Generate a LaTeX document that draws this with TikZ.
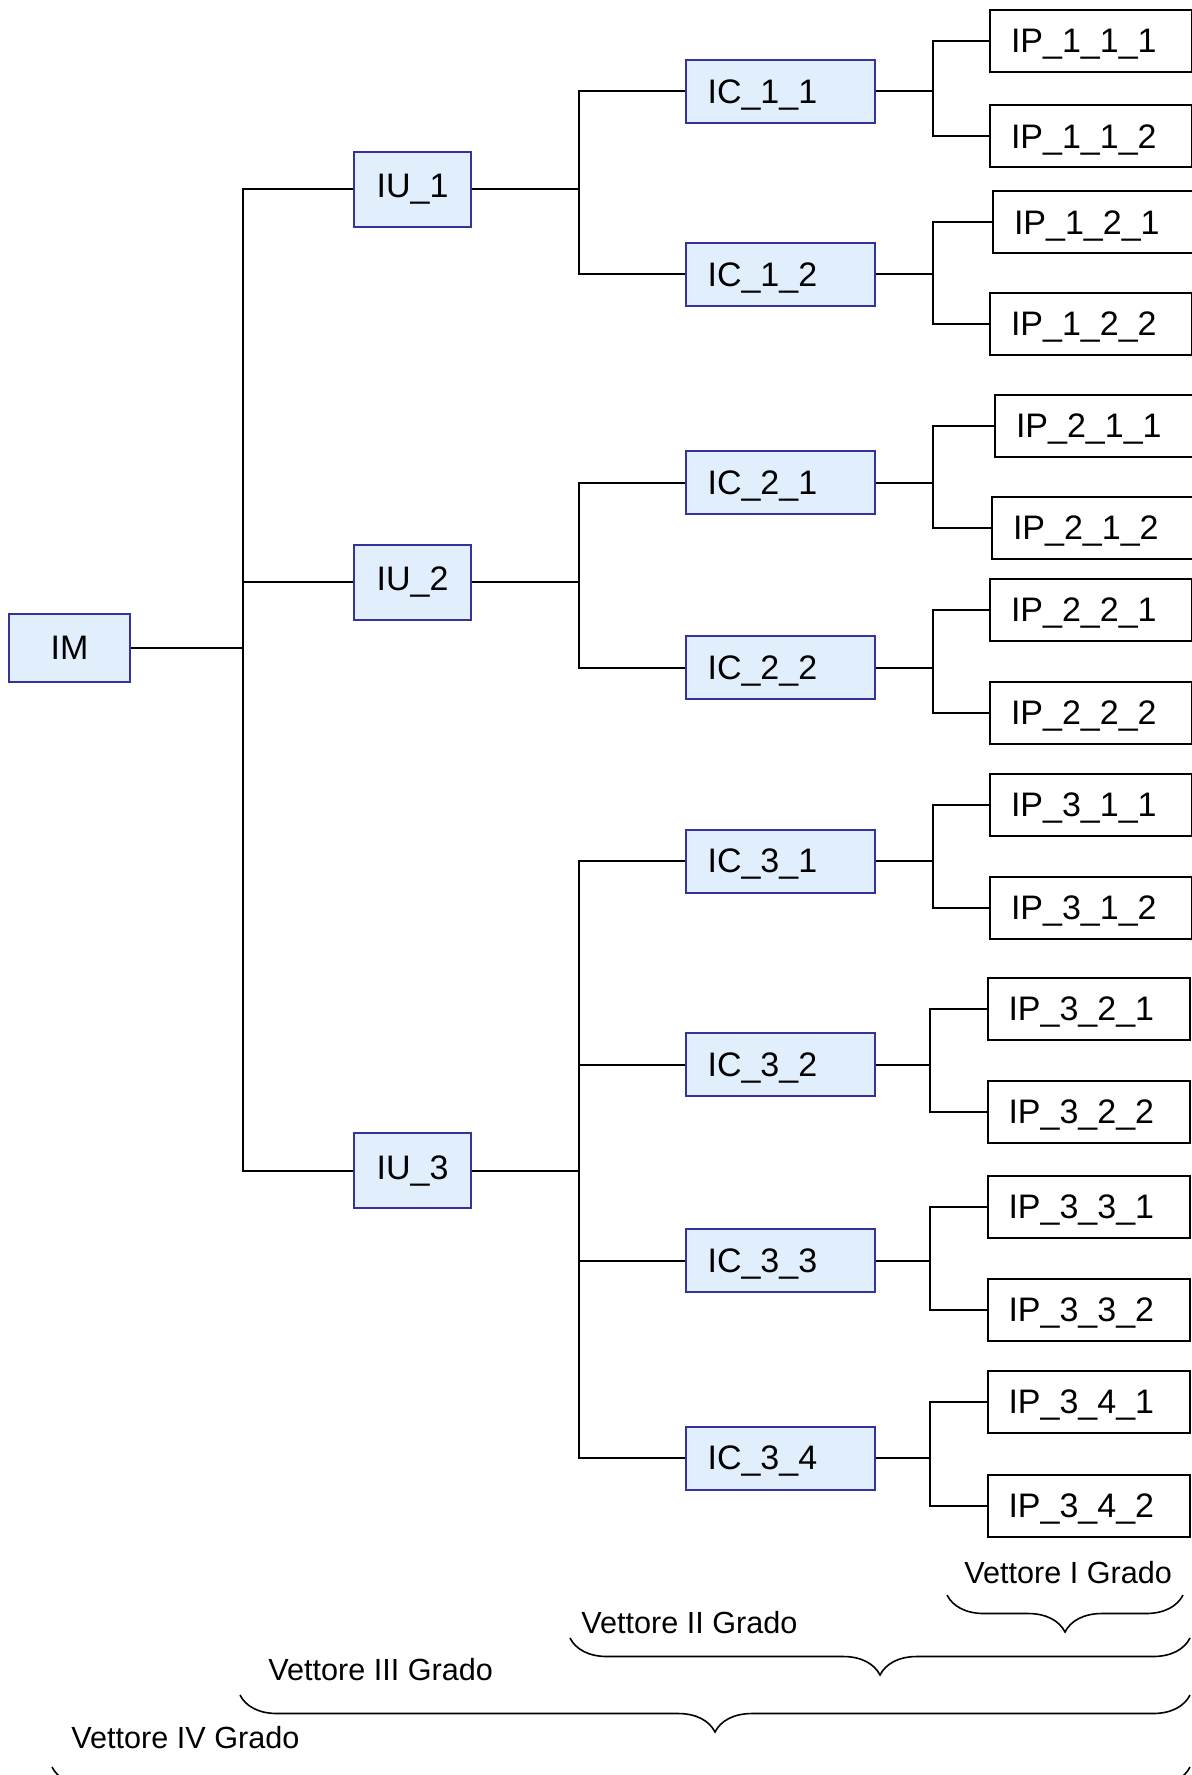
\documentclass[tikz,border=0pt]{standalone}
\usepackage{fontspec}
\setmainfont{Liberation Sans}
\usepackage{tikz}
\usetikzlibrary{decorations.pathreplacing}
\definecolor{boxfill}{RGB}{225,238,252}
\definecolor{boxline}{RGB}{51,51,153}
\tikzset{
  bluebox/.style={draw=boxline, fill=boxfill, line width=1pt, inner sep=0pt, font=\fontsize{17}{20}\selectfont},
  mainbox/.style={bluebox, minimum width=60.5pt, minimum height=34pt},
  unitbox/.style={bluebox, minimum width=58.5pt, minimum height=37.5pt},
  compbox/.style={bluebox, text width=72.75pt, align=left, text depth=0pt, inner xsep=10.75pt, minimum height=31.5pt},
  partbox/.style={draw, line width=1pt, fill=white, anchor=west, text width=80pt, align=left, text depth=0pt, inner xsep=10.5pt, inner ysep=0pt, minimum height=31pt, font=\fontsize{17}{20}\selectfont},
  partcut/.style={partbox, text width=86.5pt},
  link/.style={line width=1pt},
  vbrace/.style={line width=0.8pt, decorate, decoration={brace, mirror, amplitude=18.5pt}},
  vlabel/.style={anchor=west, inner sep=0pt, font=\fontsize{15.3}{18}\selectfont}
}
\newcommand{\compnode}[3]{\node[compbox] (#1) at (780.3,#2) {IC\_#3};}
\newcommand{\partnode}[5]{\node[#1] (#2) at (#3,#4) {IP\_#5};}
\newcommand{\twoleaves}[4]{\draw[link] (#1.east) -- ++(#2,0) coordinate (#1j); \draw[link] (#1j) |- (#3.west); \draw[link] (#1j) |- (#4.west);}

\begin{document}
\begin{tikzpicture}[x=0.5pt, y=-0.5pt]
\useasboundingbox (0,0) rectangle (1192,1775);
\node[mainbox] (im) at (69.5,648) {IM};
\node[unitbox] (iu1) at (412.5,189.5) {IU\_1};
\node[unitbox] (iu2) at (412.5,582) {IU\_2};
\node[unitbox] (iu3) at (412.5,1170.5) {IU\_3};
\compnode{ic11}{91.5}{1\_1}
\compnode{ic12}{274.5}{1\_2}
\compnode{ic21}{482.5}{2\_1}
\compnode{ic22}{667.5}{2\_2}
\compnode{ic31}{861}{3\_1}
\compnode{ic32}{1064.5}{3\_2}
\compnode{ic33}{1260.5}{3\_3}
\compnode{ic34}{1458}{3\_4}
\partnode{partbox}{ip111}{989}{41}{1\_1\_1}
\partnode{partbox}{ip112}{989}{136.5}{1\_1\_2}
\partnode{partcut}{ip121}{992}{222.5}{1\_2\_1}
\partnode{partbox}{ip122}{989}{324}{1\_2\_2}
\partnode{partcut}{ip211}{994}{426}{2\_1\_1}
\partnode{partcut}{ip212}{991}{528}{2\_1\_2}
\partnode{partbox}{ip221}{989}{609.5}{2\_2\_1}
\partnode{partbox}{ip222}{989}{712.5}{2\_2\_2}
\partnode{partbox}{ip311}{989}{804.5}{3\_1\_1}
\partnode{partbox}{ip312}{989}{907.5}{3\_1\_2}
\partnode{partbox}{ip321}{986.5}{1008.5}{3\_2\_1}
\partnode{partbox}{ip322}{986.5}{1112}{3\_2\_2}
\partnode{partbox}{ip331}{986.5}{1207}{3\_3\_1}
\partnode{partbox}{ip332}{986.5}{1310}{3\_3\_2}
\partnode{partbox}{ip341}{986.5}{1402}{3\_4\_1}
\partnode{partbox}{ip342}{986.5}{1505.5}{3\_4\_2}
\draw[link] (im.east) -- ++(112,0) coordinate (imj);
\draw[link] (imj) |- (iu1.west);
\draw[link] (imj) |- (iu2.west);
\draw[link] (imj) |- (iu3.west);
\twoleaves{iu1}{107}{ic11}{ic12}
\twoleaves{iu2}{107}{ic21}{ic22}
\twoleaves{iu3}{107}{ic31}{ic34}
\draw[link] (iu3j) |- (ic32.west);
\draw[link] (iu3j) |- (ic33.west);
\twoleaves{ic11}{57}{ip111}{ip112}
\twoleaves{ic12}{57}{ip121}{ip122}
\twoleaves{ic21}{57}{ip211}{ip212}
\twoleaves{ic22}{57}{ip221}{ip222}
\twoleaves{ic31}{57}{ip311}{ip312}
\twoleaves{ic32}{54.5}{ip321}{ip322}
\twoleaves{ic33}{54.5}{ip331}{ip332}
\twoleaves{ic34}{54.5}{ip341}{ip342}
\draw[vbrace] (947,1595) -- (1183,1595);
\draw[vbrace] (570,1638) -- (1190,1638);
\draw[vbrace] (240,1695) -- (1190,1695);
\draw[vbrace] (52,1767) -- (1190,1767);
\node[vlabel] (v1) at (964,1573) {Vettore I Grado};
\node[vlabel] (v2) at (581,1623) {Vettore II Grado};
\node[vlabel] (v3) at (268,1670) {Vettore III Grado};
\node[vlabel] (v4) at (71,1738) {Vettore IV Grado};
\end{tikzpicture}
\end{document}
